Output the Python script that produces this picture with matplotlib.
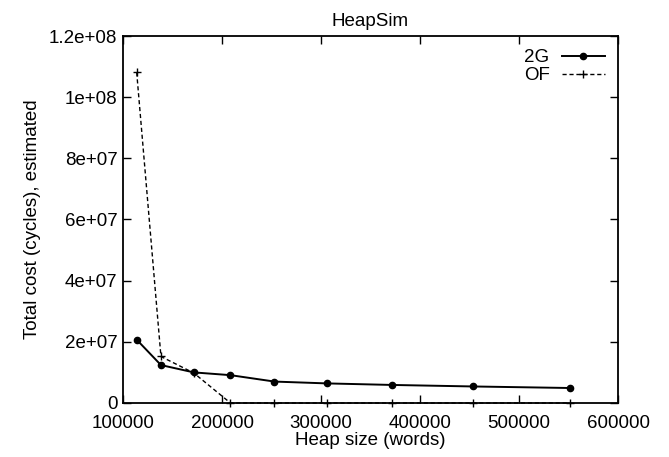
import matplotlib.pyplot as plt

plt.rcParams['font.family'] = ['Liberation Sans', 'DejaVu Sans']

heap_size = [113800, 138300, 171500, 208500, 253000, 306100, 371600, 453800, 551100]
cost_2g = [2.07e7, 1.24e7, 1.00e7, 9.1e6, 7.0e6, 6.4e6, 5.9e6, 5.4e6, 4.9e6]
cost_of = [1.081e8, 1.52e7, 9.8e6, 0, 0, 0, 0, 0, 0]

x_ticks = [100000, 200000, 300000, 400000, 500000, 600000]
y_ticks = [0, 2e7, 4e7, 6e7, 8e7, 1e8, 1.2e8]
y_labels = ['0', '2e+07', '4e+07', '6e+07', '8e+07', '1e+08', '1.2e+08']

fig = plt.figure(figsize=(6.69, 4.57), dpi=100)
ax = fig.add_axes([0.1839, 0.1182, 0.7399, 0.8030])

ax.plot(heap_size, cost_2g, color='black', lw=1.4, marker='o', ms=4.5, label='2G')
ax.plot(heap_size, cost_of, color='black', lw=1.0, ls=(0, (3, 2)), marker='+', ms=6,
        mew=1.0, label='OF', clip_on=False)

ax.set_xlim(100000, 600000)
ax.set_ylim(0, 1.2e8)
ax.set_xticks(x_ticks)
ax.set_xticklabels([str(v) for v in x_ticks])
ax.set_yticks(y_ticks)
ax.set_yticklabels(y_labels)
ax.tick_params(direction='in', top=True, right=True, length=6, width=1.0,
               labelsize=13.5, pad=4)
ax.tick_params(axis='x', pad=9)
for s in ax.spines.values():
    s.set_linewidth(1.3)

ax.set_title('HeapSim', fontsize=13.5, pad=7)
ax.set_xlabel('Heap size (words)', fontsize=13.5, labelpad=0)
ax.set_ylabel('Total cost (cycles), estimated', fontsize=13.5, labelpad=6)

ax.legend(loc='upper right', frameon=False, markerfirst=False, handlelength=2.3,
          fontsize=13.5, labelspacing=0.05, borderaxespad=0.3, handletextpad=0.65)

fig.savefig('out.png', dpi=100)
